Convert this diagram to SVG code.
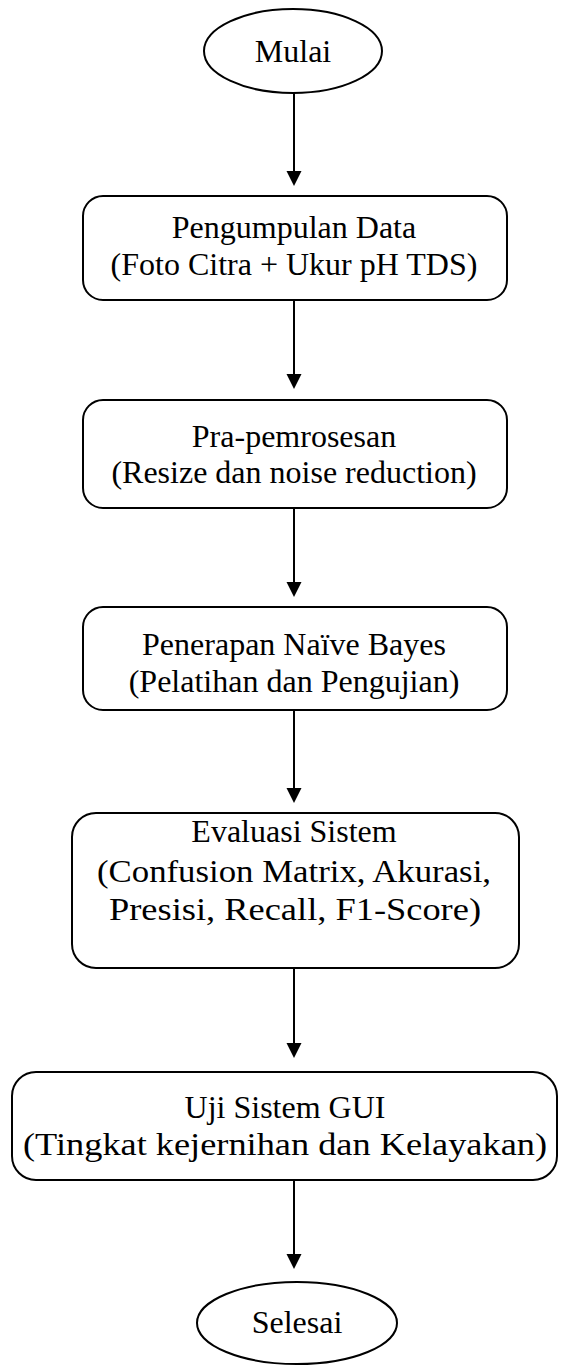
<svg xmlns="http://www.w3.org/2000/svg" width="569" height="1365" viewBox="0 0 569 1365">
<style>
.shape{fill:#fff;stroke:#000;stroke-width:2}
.t{font-family:"Liberation Serif","Times New Roman",serif;font-size:32px;fill:#000;text-anchor:middle}
.conn{stroke:#000;stroke-width:2;fill:none}
</style>
<defs>
<marker id="ah" markerUnits="userSpaceOnUse" markerWidth="16" markerHeight="16" refX="5" refY="8" orient="auto">
<path d="M0,0.5 L15,8 L0,15.5 z" fill="#000"/>
</marker>
</defs>
<rect width="569" height="1365" fill="#fff"/>
<g id="connectors">
<line class="conn" x1="294" y1="93" x2="294" y2="176" marker-end="url(#ah)"/>
<line class="conn" x1="294" y1="300" x2="294" y2="379" marker-end="url(#ah)"/>
<line class="conn" x1="294" y1="508" x2="294" y2="587" marker-end="url(#ah)"/>
<line class="conn" x1="294" y1="710" x2="294" y2="793" marker-end="url(#ah)"/>
<line class="conn" x1="294" y1="968" x2="294" y2="1048" marker-end="url(#ah)"/>
<line class="conn" x1="294" y1="1180" x2="294" y2="1259" marker-end="url(#ah)"/>
</g>
<g id="mulai">
<ellipse class="shape" cx="293" cy="51" rx="89" ry="42"/>
<text class="t" x="293" y="62">Mulai</text>
</g>
<g id="pengumpulan">
<rect class="shape" x="83" y="196" width="424" height="104" rx="20"/>
<text class="t" x="294" y="238">Pengumpulan Data</text>
<text class="t" x="294" y="275">(Foto Citra + Ukur pH TDS)</text>
</g>
<g id="prapemrosesan">
<rect class="shape" x="83" y="400" width="424" height="108" rx="20"/>
<text class="t" x="294" y="447">Pra-pemrosesan</text>
<text class="t" x="294" y="483">(Resize dan noise reduction)</text>
</g>
<g id="naivebayes">
<rect class="shape" x="83" y="607" width="424" height="103" rx="20"/>
<text class="t" x="294" y="655">Penerapan Naïve Bayes</text>
<text class="t" x="294" y="692">(Pelatihan dan Pengujian)</text>
</g>
<g id="evaluasi">
<rect class="shape" x="72" y="813" width="447" height="155" rx="24"/>
<text class="t" x="294" y="842">Evaluasi Sistem</text>
<text class="t" x="294" y="882" font-size="34" textLength="394" lengthAdjust="spacingAndGlyphs">(Confusion Matrix, Akurasi,</text>
<text class="t" x="295" y="920" font-size="35" textLength="372" lengthAdjust="spacingAndGlyphs">Presisi, Recall, F1-Score)</text>
</g>
<g id="ujigui">
<rect class="shape" x="12" y="1072" width="545" height="108" rx="24"/>
<text class="t" x="285" y="1118">Uji Sistem GUI</text>
<text class="t" x="285" y="1155" font-size="35" textLength="524" lengthAdjust="spacingAndGlyphs">(Tingkat kejernihan dan Kelayakan)</text>
</g>
<g id="selesai">
<ellipse class="shape" cx="297" cy="1323" rx="100" ry="41"/>
<text class="t" x="297" y="1333">Selesai</text>
</g>
</svg>
